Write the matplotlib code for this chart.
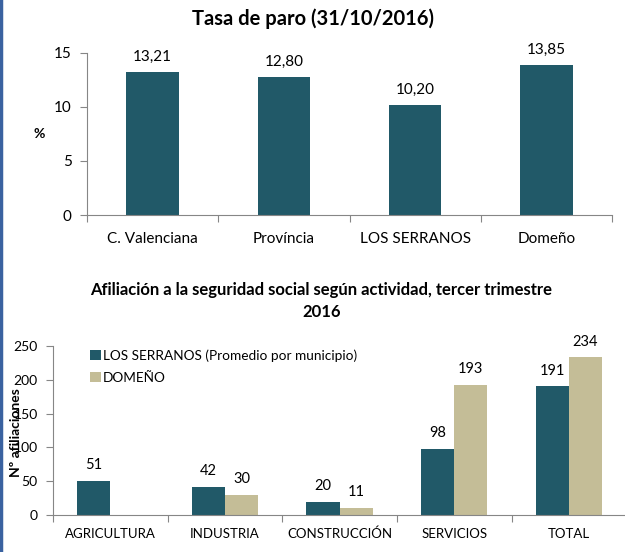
import matplotlib

matplotlib.use("Agg")

import matplotlib.pyplot as plt
import numpy as np
from matplotlib.lines import Line2D

plt.rcParams["font.family"] = ["Lato", "DejaVu Sans"]

# Tasa de paro
zonas = ["C. Valenciana", "Província", "LOS SERRANOS", "Domeño"]
tasa_paro = [13.21, 12.80, 10.20, 13.85]
yticks_paro = [0, 5, 10, 15]

# Afiliaciones
sectores = ["AGRICULTURA", "INDUSTRIA", "CONSTRUCCIÓN", "SERVICIOS", "TOTAL"]
serranos = [51, 42, 20, 98, 191]
domeno = [np.nan, 30, 11, 193, 234]
yticks_afil = [0, 50, 100, 150, 200, 250]

TEAL = "#215968"
BEIGE = "#C4BD97"
GRID = "#868686"


def style_axes(ax, n, tick_size, pad=8):
    for side in ["top", "right"]:
        ax.spines[side].set_visible(False)
    for side in ["left", "bottom"]:
        ax.spines[side].set_color(GRID)
    ax.set_xlim(-0.5, n - 0.5)
    # separadores de categoria como ticks mayores, etiquetas en menores
    ax.set_xticks(np.arange(n + 1) - 0.5)
    ax.set_xticklabels([])
    ax.tick_params(axis="x", which="major", length=5, color=GRID)
    ax.tick_params(axis="x", which="minor", length=0, labelsize=tick_size, pad=pad)
    ax.tick_params(axis="y", length=5, color=GRID, labelsize=tick_size, pad=6)


fig = plt.figure(figsize=(6.25, 5.52), dpi=100)

# --- Gráfico 1 ---
ax1 = fig.add_axes([0.1392, 0.6105, 0.84, 0.2935])
x1 = np.arange(len(zonas))
bars = ax1.bar(x1, tasa_paro, width=0.4, color=TEAL)
style_axes(ax1, len(zonas), 11, pad=12)
ax1.set_xticks(x1, minor=True)
ax1.set_xticklabels(zonas, minor=True)
ax1.set_ylim(0, 15)
ax1.set_yticks(yticks_paro)
for b, v in zip(bars, tasa_paro):
    ax1.annotate(f"{v:.2f}".replace(".", ","), (b.get_x() + b.get_width() / 2, v),
                 xytext=(0, 6), textcoords="offset points", ha="center", va="bottom", fontsize=11)
fig.text(0.063, 0.757, "%", fontsize=10, fontweight="bold", ha="center", va="center")
fig.text(0.5, 0.967, "Tasa de paro (31/10/2016)", fontsize=14.5, fontweight="bold", ha="center", va="center")

# --- Gráfico 2 ---
ax2 = fig.add_axes([0.0848, 0.067, 0.917, 0.306])
x2 = np.arange(len(sectores))
w = 0.29
b1 = ax2.bar(x2 - w / 2, serranos, width=w, color=TEAL, label="LOS SERRANOS (Promedio por municipio)")
b2 = ax2.bar(x2 + w / 2, domeno, width=w, color=BEIGE, label="DOMEÑO")
style_axes(ax2, len(sectores), 9.5, pad=9)
ax2.tick_params(axis="y", labelsize=10)
ax2.set_xticks(x2, minor=True)
ax2.set_xticklabels(sectores, minor=True)
ax2.set_ylim(0, 250)
ax2.set_yticks(yticks_afil)
for bars_, vals in [(b1, serranos), (b2, domeno)]:
    for b, v in zip(bars_, vals):
        if np.isnan(v):
            continue
        ax2.annotate(f"{v:.0f}", (b.get_x() + b.get_width() / 2, v),
                     xytext=(0, 6), textcoords="offset points", ha="center", va="bottom", fontsize=10.5)
ax2.legend(loc="upper left", bbox_to_anchor=(0.136, 0.377), bbox_transform=fig.transFigure,
           frameon=False, fontsize=9.8, handlelength=0.75, handleheight=0.75,
           handletextpad=0.15, labelspacing=0.75, borderaxespad=0)
fig.text(0.026, 0.217, "Nº afiliaciones", fontsize=10, fontweight="bold", rotation=90,
         ha="center", va="center")
fig.text(0.514, 0.455, "Afiliación a la seguridad social según actividad, tercer trimestre\n2016",
         fontsize=12, fontweight="bold", ha="center", va="center", linespacing=1.45)

# borde izquierdo
fig.add_artist(Line2D([0.002, 0.002], [0, 1], transform=fig.transFigure, color="#3A62A0", linewidth=2.5))

fig.savefig("out.png", dpi=100)
